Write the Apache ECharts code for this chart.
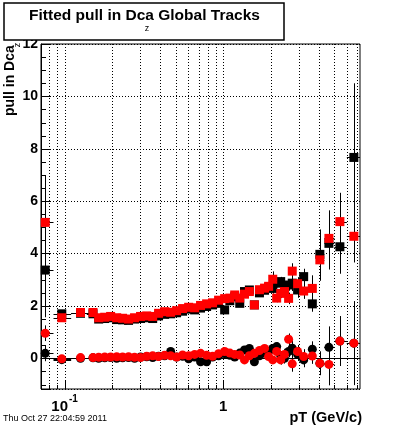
<!DOCTYPE html>
<html><head><meta charset="utf-8">
<script src="https://cdn.jsdelivr.net/npm/echarts@6/dist/echarts.min.js"></script>
<style>html,body{margin:0;padding:0;background:#fff}#c{width:400px;height:433px}</style>
</head><body><div id="c"></div>
<script>
// ---- data ----
const pT = [0.0755,0.096,0.126,0.151,0.164,0.179,0.195,0.213,0.232,0.253,0.276,0.301,0.329,0.359,0.391,0.427,0.466,0.508,0.554,0.605,0.660,0.719,0.785,0.856,0.934,1.02,1.10,1.18,1.27,1.36,1.46,1.57,1.69,1.82,1.93,2.05,2.17,2.30,2.43,2.58,2.72,2.94,3.21,3.64,4.06,4.63,5.43,6.65];
const redSquare = [5.19,1.55,1.75,1.75,1.55,1.57,1.60,1.55,1.53,1.50, 1.55,1.60,1.62,1.60,1.72,1.78,1.76,1.82,1.90,1.95, 1.93,2.02,2.08,2.12,2.22,2.28,2.30,2.42,2.30,2.45, 2.55,2.04,2.62,2.68,2.75,3.02,2.30,2.48,2.55,2.29, 3.33,2.85,2.57,2.67,3.76,4.58,5.22,4.66];
const blackSquare = [3.37,1.70,1.72,1.70,1.50,1.52,1.55,1.48,1.47,1.45, 1.50,1.52,1.55,1.52,1.62,1.68,1.70,1.74,1.80,1.88, 1.85,1.92,1.98,2.04,2.10,1.85,2.20,2.35,2.10,2.55, 2.61,2.04,2.50,2.60,2.70,2.67,2.87,2.93,2.60,2.80, 2.87,2.61,3.12,2.08,3.97,4.39,4.26,7.67];
const redCircle = [0.96,-0.02,0.03,0.03,0.04,0.05,0.05,0.06,0.05,0.06, 0.04,0.03,0.08,0.10,0.07,0.12,0.10,0.05,0.13,0.10, 0.15,0.19,0.12,0.08,0.18,0.26,0.20,0.15,0.13,-0.06, 0.10,0.19,0.30,0.38,0.07,-0.06,0.26,-0.06,0.15,0.73, -0.21,0.26,0.07,0.09,-0.19,-0.23,0.66,0.58];
const blackCircle = [0.19,-0.05,0.00,0.02,0.00,0.02,0.03,0.00,0.02,0.03, 0.00,0.05,0.06,0.03,0.08,0.10,0.26,0.05,0.08,-0.02, 0.05,-0.13,-0.13,0.05,0.10,0.18,0.12,0.05,0.20,0.32, 0.38,-0.13,0.10,0.20,0.25,0.38,0.45,0.10,0.00,0.26, 0.39,0.15,-0.06,0.35,-0.19,0.42,0.66,0.58];
const redSquareErr = [1.80,0.12,0.10,0.10,0.05,0.05,0.05,0.05,0.05,0.05, 0.05,0.05,0.05,0.05,0.05,0.05,0.06,0.06,0.06,0.06, 0.07,0.07,0.08,0.08,0.08,0.09,0.10,0.10,0.10,0.11, 0.12,0.12,0.13,0.14,0.15,0.30,0.16,0.18,0.20,0.22, 0.30,0.25,0.30,0.50,0.80,1.07,1.10,1.00];
const blackSquareErr = [1.80,0.12,0.10,0.10,0.05,0.05,0.05,0.05,0.05,0.05, 0.05,0.05,0.05,0.05,0.05,0.05,0.06,0.06,0.06,0.06, 0.07,0.07,0.08,0.08,0.08,0.09,0.10,0.10,0.10,0.11, 0.12,0.12,0.13,0.14,0.15,0.20,0.16,0.18,0.20,0.22, 0.30,0.30,0.30,0.30,0.95,1.00,1.03,2.83];
const circleErr = [0.30,0.08,0.06,0.05,0.04,0.04,0.04,0.04,0.04,0.04, 0.04,0.04,0.04,0.04,0.04,0.04,0.05,0.05,0.05,0.05, 0.05,0.05,0.06,0.06,0.06,0.07,0.07,0.08,0.08,0.09, 0.10,0.10,0.11,0.12,0.13,0.15,0.16,0.18,0.20,0.22, 0.30,0.25,0.28,0.30,0.45,0.80,0.95,1.60];
const xGridValues = [0.08,0.09,0.1,0.2,0.3,0.4,0.5,0.6,0.7,0.8,0.9,1,2,3,4,5,6,7];
const xMajorValues = [0.1, 1];
const yMinorTicks = [-1,-0.5,0.5,1,1.5,2.5,3,3.5,4.5,5,5.5,6.5,7,7.5,8.5,9,9.5,10.5,11,11.5];
const X_MIN = 0.071, X_MAX = 7.27, Y_MIN = -1.17, Y_MAX = 12;

// bin edges (geometric midpoints between neighbouring points)
const binLo = pT.map((x,i)=> i>0 ? Math.sqrt(pT[i-1]*x) : x*x/Math.sqrt(x*pT[i+1]));
const binHi = pT.map((x,i)=> i<pT.length-1 ? Math.sqrt(x*pT[i+1]) : x*x/Math.sqrt(pT[i-1]*x));

const FONT = 'Liberation Sans, Arial, Helvetica, sans-serif';
const chart = echarts.init(document.getElementById('c'), null, {renderer:'canvas'});

function errData(vals, errs){ return pT.map((x,i)=>[x, vals[i], errs[i], binLo[i], binHi[i]]); }
function ptData(vals){ return pT.map((x,i)=>[x, vals[i]]); }
const snap = v => Math.round(v) + 0.5;

function errItem(params, api){
  const cs = params.coordSys;
  const cx = v => Math.max(cs.x, Math.min(cs.x+cs.width, v));
  const cy = v => Math.max(cs.y, Math.min(cs.y+cs.height, v));
  const x = api.value(0), y = api.value(1), e = api.value(2), lo = api.value(3), hi = api.value(4);
  const c = api.coord([x,y]);
  const t = api.coord([x,y+e]), b = api.coord([x,y-e]);
  const l = api.coord([lo,y]), r = api.coord([hi,y]);
  const px = snap(c[0]), py = snap(c[1]);
  return {type:'group', children:[
    {type:'line', shape:{x1:px, y1:cy(t[1]), x2:px, y2:cy(b[1])}, style:{stroke:'#000', lineWidth:1}},
    {type:'line', shape:{x1:cx(l[0]), y1:py, x2:cx(r[0]), y2:py}, style:{stroke:'#000', lineWidth:1}}
  ]};
}
function xDecorItem(params, api){
  const cs = params.coordSys;
  const v = api.value(0);
  const p = api.coord([v, Y_MIN]);
  const px = snap(p[0]);
  const bottom = cs.y + cs.height;
  const major = xMajorValues.some(m => Math.abs(m - v) < 1e-9);
  return {type:'group', children:[
    {type:'line', shape:{x1:px, y1:cs.y, x2:px, y2:bottom}, style:{stroke:'#000', lineWidth:1, lineDash:[1,2]}},
    {type:'line', shape:{x1:px, y1:bottom, x2:px, y2:bottom-(major?8:4)}, style:{stroke:'#000', lineWidth:1}}
  ]};
}
function yTickItem(params, api){
  const cs = params.coordSys;
  const p = api.coord([X_MIN, api.value(1)]);
  const py = snap(p[1]);
  return {type:'line', shape:{x1:cs.x, y1:py, x2:cs.x+5, y2:py}, style:{stroke:'#000', lineWidth:1}};
}

const option = {
  animation: false,
  backgroundColor: '#fff',
  grid: {left:41, right:40, top:44, bottom:44, show:true, borderColor:'#000', borderWidth:1, backgroundColor:'transparent', containLabel:false, outerBoundsMode:'none'},
  xAxis: {
    type:'log', logBase:10, min:X_MIN, max:X_MAX,
    axisLine:{show:true, lineStyle:{color:'#000', width:1}},
    axisTick:{show:false},
    splitLine:{show:false},
    axisLabel:{
      show:true, margin:5, showMinLabel:false, showMaxLabel:false,
      formatter: v => Math.abs(v-0.1)<1e-6 ? '{b|10}{s|-1}' : (Math.abs(v-1)<1e-6 ? '{b|1}' : ''),
      rich:{
        b:{fontFamily:FONT, fontWeight:'bold', fontSize:15, color:'#000', lineHeight:20, verticalAlign:'bottom'},
        s:{fontFamily:FONT, fontWeight:'bold', fontSize:10, color:'#000', lineHeight:20, verticalAlign:'top', padding:[0,0,0,1]}
      }
    }
  },
  yAxis: {
    type:'value', min:Y_MIN, max:Y_MAX, splitNumber:6,
    axisLine:{show:true, lineStyle:{color:'#000', width:1}},
    axisTick:{show:true, inside:true, length:9, lineStyle:{color:'#000', width:1}},
    splitLine:{show:true, lineStyle:{color:'#000', width:1, type:[1,2]}},
    axisLabel:{
      margin:3, color:'#000', fontFamily:FONT, fontWeight:'bold', fontSize:14,
      formatter: v => { const r = Math.round(v); return (Math.abs(v-r)<1e-6 && r%2===0) ? String(Math.abs(r)===0?0:r) : ''; }
    }
  },
  series: [
    {type:'custom', renderItem:xDecorItem, data:xGridValues.map(v=>[v,0]), encode:{x:0,y:1}, silent:true, z:1},
    {type:'custom', renderItem:yTickItem, data:yMinorTicks.map(v=>[X_MIN,v]), encode:{x:0,y:1}, silent:true, z:1},
    {type:'custom', renderItem:errItem, data:errData(blackSquare, blackSquareErr), encode:{x:0,y:1}, z:2},
    {type:'custom', renderItem:errItem, data:errData(blackCircle, circleErr), encode:{x:0,y:1}, z:2},
    {type:'custom', renderItem:errItem, data:errData(redSquare, redSquareErr), encode:{x:0,y:1}, z:2},
    {type:'custom', renderItem:errItem, data:errData(redCircle, circleErr), encode:{x:0,y:1}, z:2},
    {type:'scatter', data:ptData(blackSquare), symbol:'rect', symbolSize:9, itemStyle:{color:'#000', opacity:1}, z:3},
    {type:'scatter', data:ptData(blackCircle), symbol:'circle', symbolSize:9, itemStyle:{color:'#000', opacity:1}, z:3},
    {type:'scatter', data:ptData(redSquare), symbol:'rect', symbolSize:9, itemStyle:{color:'#ff0000', opacity:1}, z:3},
    {type:'scatter', data:ptData(redCircle), symbol:'circle', symbolSize:9, itemStyle:{color:'#ff0000', opacity:1}, z:3}
  ],
  graphic: [
    {type:'rect', shape:{x:4, y:3, width:280, height:37}, style:{fill:'#fff', stroke:'#000', lineWidth:1.5}, z:10},
    {type:'text', x:144.5, y:16, style:{text:'Fitted pull in Dca Global Tracks', font:'bold 15.5px '+FONT, fill:'#000', textAlign:'center', textVerticalAlign:'middle'}, z:11},
    {type:'text', x:147, y:29, style:{text:'z', font:'9px '+FONT, fill:'#000', textAlign:'center', textVerticalAlign:'middle'}, z:11},
    {type:'text', x:10.5, y:116, rotation:Math.PI/2, style:{text:'pull in Dca', font:'bold 14px '+FONT, fill:'#000', textAlign:'left', textVerticalAlign:'middle'}, z:11},
    {type:'text', x:18, y:45, rotation:Math.PI/2, style:{text:'z', font:'9px '+FONT, fill:'#000', textAlign:'center', textVerticalAlign:'middle'}, z:11},
    {type:'text', x:362, y:418, style:{text:'pT (GeV/c)', font:'bold 14.5px '+FONT, fill:'#000', textAlign:'right', textVerticalAlign:'middle'}, z:11},
    {type:'text', x:3, y:419, style:{text:'Thu Oct 27 22:04:59 2011', font:'9px '+FONT, fill:'#000', textAlign:'left', textVerticalAlign:'middle'}, z:11}
  ]
};
chart.setOption(option);
</script>
</body></html>
